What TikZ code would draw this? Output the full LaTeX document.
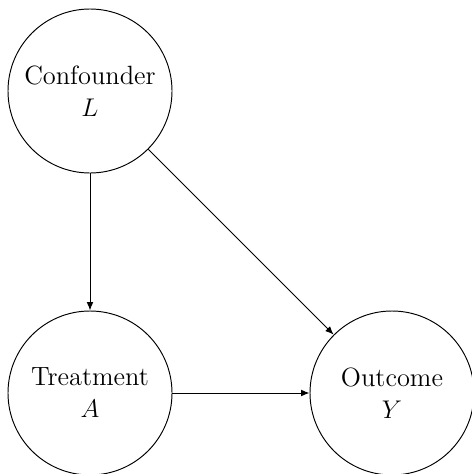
\documentclass[tikz,border=0pt]{standalone}
\usetikzlibrary{arrows.meta}
\begin{document}
\begin{tikzpicture}[x=0.4695pt,y=-0.4695pt,
  var/.style={draw,circle,minimum size=77pt,inner sep=0pt,align=center,font=\fontsize{12.4}{15}\selectfont},
  edge/.style={-{Latex[length=4pt,width=3.2pt]},line width=0.45pt}]
\useasboundingbox (0,0) rectangle (472,474);
\node[var,line width=0.45pt] (L) at (90,91) {Confounder\\$L$};
\node[var,line width=0.45pt] (A) at (90,393) {Treatment\\$A$};
\node[var,line width=0.45pt] (Y) at (392,393) {Outcome\\$Y$};
\draw[edge] (L) -- (A);
\draw[edge] (L) -- (Y);
\draw[edge] (A) -- (Y);
\end{tikzpicture}
\end{document}
